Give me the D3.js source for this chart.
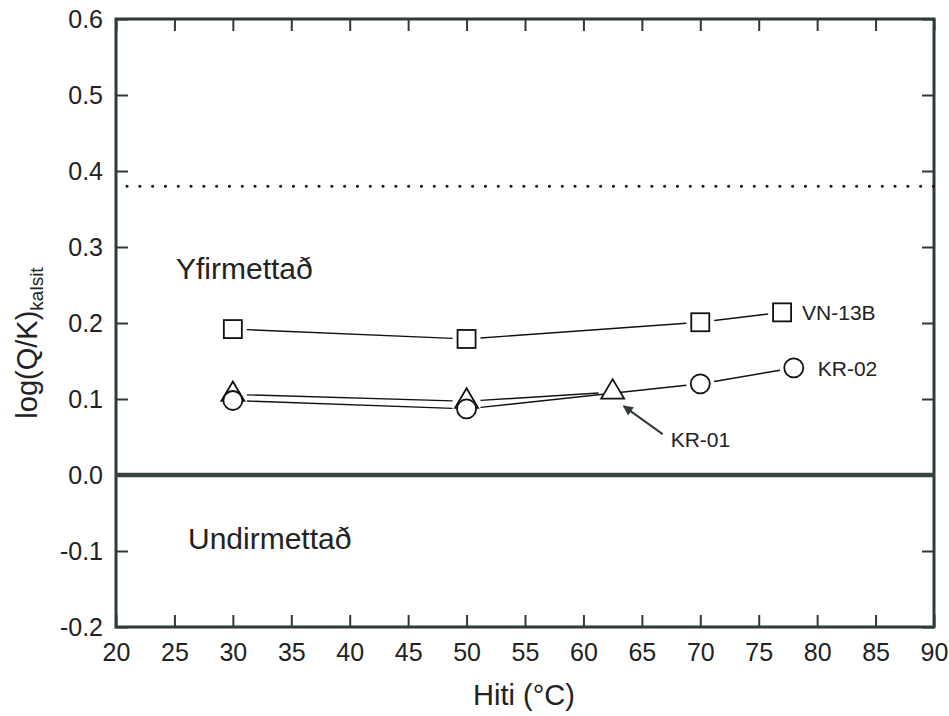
<!DOCTYPE html>
<html>
<head>
<meta charset="utf-8">
<script src="https://cdn.jsdelivr.net/npm/d3@7"></script>
<style>
  body { margin: 0; background: #fff; }
  svg { display: block; font-family: "Liberation Sans", Arial, sans-serif; }
</style>
</head>
<body>
<div id="chart"></div>
<script>
// data
const xTicks = [20, 25, 30, 35, 40, 45, 50, 55, 60, 65, 70, 75, 80, 85, 90];
const yTicks = [-0.2, -0.1, 0.0, 0.1, 0.2, 0.3, 0.4, 0.5, 0.6];

const vnTemp = [30, 50, 70, 77];
const vnLog = [0.192, 0.179, 0.201, 0.214];

const kr02Temp = [30, 50, 70, 78];
const kr02Log = [0.098, 0.087, 0.120, 0.141];

const kr01Temp = [30, 50, 62.5];
const kr01Log = [0.106, 0.097, 0.109];

const saturation = 0.38;

const width = 949;
const height = 716;
const marginTop = 19;
const marginRight = 15;
const marginBottom = 89;
const marginLeft = 116;
const axisColor = "#2f3a3a";

const x = d3.scaleLinear().domain([20, 90]).range([marginLeft, width - marginRight]);
const y = d3.scaleLinear().domain([-0.2, 0.6]).range([height - marginBottom, marginTop]);

const svg = d3.select("#chart").append("svg")
    .attr("width", width)
    .attr("height", height)
    .attr("viewBox", [0, 0, width, height]);

// axes, ticks pointing inward on all four sides
svg.append("g")
    .attr("transform", `translate(0,${height - marginBottom})`)
    .call(d3.axisBottom(x).tickValues(xTicks).tickSizeInner(-12).tickSizeOuter(0).tickPadding(16))
    .call(g => g.select(".domain").remove())
    .call(g => g.selectAll(".tick line").attr("stroke", axisColor).attr("stroke-width", 2))
    .call(g => g.selectAll(".tick text").attr("font-size", 25).attr("fill", "#222"));

svg.append("g")
    .attr("transform", `translate(${marginLeft},0)`)
    .call(d3.axisLeft(y).tickValues(yTicks).tickFormat(d => d3.format(".1f")(d).replace("−", "-")).tickSizeInner(-12).tickSizeOuter(0).tickPadding(13))
    .call(g => g.select(".domain").remove())
    .call(g => g.selectAll(".tick line").attr("stroke", axisColor).attr("stroke-width", 2))
    .call(g => g.selectAll(".tick text").attr("font-size", 25).attr("fill", "#222"));

svg.append("g")
    .attr("transform", `translate(0,${marginTop})`)
    .call(d3.axisTop(x).tickValues(xTicks).tickFormat("").tickSizeInner(-12).tickSizeOuter(0))
    .call(g => g.select(".domain").remove())
    .call(g => g.selectAll(".tick line").attr("stroke", axisColor).attr("stroke-width", 2));

svg.append("g")
    .attr("transform", `translate(${width - marginRight},0)`)
    .call(d3.axisRight(y).tickValues(yTicks).tickFormat("").tickSizeInner(-12).tickSizeOuter(0))
    .call(g => g.select(".domain").remove())
    .call(g => g.selectAll(".tick line").attr("stroke", axisColor).attr("stroke-width", 2));

svg.append("rect")
    .attr("x", marginLeft)
    .attr("y", marginTop)
    .attr("width", width - marginRight - marginLeft)
    .attr("height", height - marginBottom - marginTop)
    .attr("fill", "none")
    .attr("stroke", axisColor)
    .attr("stroke-width", 3);

// zero line and saturation line
svg.append("line")
    .attr("x1", x(20)).attr("x2", x(90))
    .attr("y1", y(0)).attr("y2", y(0))
    .attr("stroke", "#36423f")
    .attr("stroke-width", 4.5);

svg.append("line")
    .attr("x1", x(20) + 11).attr("x2", x(90))
    .attr("y1", y(saturation)).attr("y2", y(saturation))
    .attr("stroke", "#111")
    .attr("stroke-width", 3)
    .attr("stroke-linecap", "round")
    .attr("stroke-dasharray", "0.1 12.7");

// axis titles
svg.append("text")
    .attr("x", (x(20) + x(90)) / 2 - 1)
    .attr("y", 705)
    .attr("text-anchor", "middle")
    .attr("font-size", 29)
    .attr("fill", "#222")
    .text("Hiti (°C)");

const yTitle = svg.append("text")
    .attr("transform", "translate(37,343) rotate(-90)")
    .attr("text-anchor", "middle")
    .attr("font-size", 29)
    .attr("fill", "#222");
yTitle.append("tspan").text("log(Q/K)");
yTitle.append("tspan").attr("font-size", 19).attr("dy", 6).text("kalsit");

// region labels
svg.append("text")
    .attr("x", x(20) + 60)
    .attr("y", y(0.258))
    .attr("font-size", 30)
    .attr("fill", "#222")
    .text("Yfirmettað");

svg.append("text")
    .attr("x", x(20) + 72)
    .attr("y", y(-0.098))
    .attr("font-size", 30)
    .attr("fill", "#222")
    .text("Undirmettað");

// connecting lines with a gap around each marker
function gappedSegments(temps, vals, gap) {
    const segs = [];
    for (let i = 0; i < temps.length - 1; i++) {
        const x1 = x(temps[i]), y1 = y(vals[i]);
        const x2 = x(temps[i + 1]), y2 = y(vals[i + 1]);
        const len = Math.hypot(x2 - x1, y2 - y1);
        const ux = (x2 - x1) / len, uy = (y2 - y1) / len;
        segs.push([x1 + ux * gap, y1 + uy * gap, x2 - ux * gap, y2 - uy * gap]);
    }
    return segs;
}

const series = [
    { temps: vnTemp, vals: vnLog },
    { temps: kr02Temp, vals: kr02Log },
    { temps: kr01Temp, vals: kr01Log }
];

series.forEach(s => {
    svg.append("g")
        .selectAll("line")
        .data(gappedSegments(s.temps, s.vals, 14))
        .join("line")
        .attr("x1", d => d[0]).attr("y1", d => d[1])
        .attr("x2", d => d[2]).attr("y2", d => d[3])
        .attr("stroke", "#111")
        .attr("stroke-width", 1.4);
});

// markers: triangles first, circles on top (white filled)
svg.append("g")
    .selectAll("path")
    .data(d3.zip(kr01Temp, kr01Log))
    .join("path")
    .attr("transform", d => `translate(${x(d[0])},${y(d[1])})`)
    .attr("d", "M0,-13L11.5,6.5L-11.5,6.5Z")
    .attr("fill", "white")
    .attr("stroke", "#111")
    .attr("stroke-width", 1.8);

svg.append("g")
    .selectAll("circle")
    .data(d3.zip(kr02Temp, kr02Log))
    .join("circle")
    .attr("cx", d => x(d[0]))
    .attr("cy", d => y(d[1]))
    .attr("r", 9.5)
    .attr("fill", "white")
    .attr("stroke", "#111")
    .attr("stroke-width", 1.8);

svg.append("g")
    .selectAll("rect")
    .data(d3.zip(vnTemp, vnLog))
    .join("rect")
    .attr("x", d => x(d[0]) - 9)
    .attr("y", d => y(d[1]) - 9)
    .attr("width", 18)
    .attr("height", 18)
    .attr("fill", "white")
    .attr("stroke", "#111")
    .attr("stroke-width", 1.8);

// series labels
const last = (a) => a[a.length - 1];

svg.append("text")
    .attr("x", x(last(vnTemp)) + 20)
    .attr("y", y(last(vnLog)) + 8)
    .attr("font-size", 21)
    .attr("fill", "#222")
    .text("VN-13B");

svg.append("text")
    .attr("x", x(last(kr02Temp)) + 24)
    .attr("y", y(last(kr02Log)) + 8)
    .attr("font-size", 21)
    .attr("fill", "#222")
    .text("KR-02");

// KR-01 label with arrow pointing at the triangle
const tx = x(last(kr01Temp)), ty = y(last(kr01Log));

svg.append("defs").append("marker")
    .attr("id", "arrow")
    .attr("viewBox", "0 0 10 10")
    .attr("refX", 9).attr("refY", 5)
    .attr("markerWidth", 14).attr("markerHeight", 10)
    .attr("markerUnits", "userSpaceOnUse")
    .attr("orient", "auto")
    .append("path")
    .attr("d", "M0,0L10,5L0,10Z")
    .attr("fill", axisColor);

svg.append("line")
    .attr("x1", tx + 50).attr("y1", ty + 42)
    .attr("x2", tx + 11).attr("y2", ty + 14)
    .attr("stroke", axisColor)
    .attr("stroke-width", 2)
    .attr("marker-end", "url(#arrow)");

svg.append("text")
    .attr("x", tx + 58)
    .attr("y", ty + 55)
    .attr("font-size", 21)
    .attr("fill", "#222")
    .text("KR-01");
</script>
</body>
</html>
